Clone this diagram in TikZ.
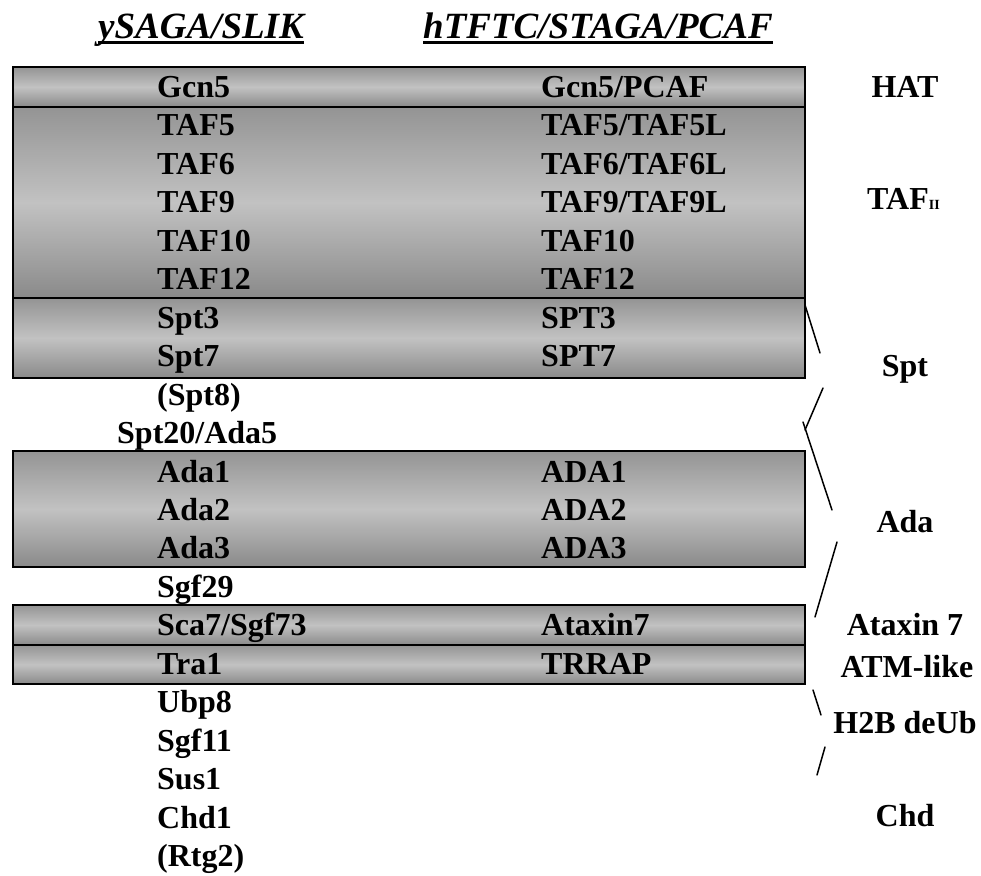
\documentclass[tikz,border=0pt]{standalone}
\usepackage{fontspec}
\setmainfont{Liberation Serif}
\begin{document}
\begin{tikzpicture}[x=1pt,y=-1pt,
  cbox/.style={draw=black, line width=1.6pt, top color=black!42, bottom color=black!46, middle color=black!24},
  lt/.style={anchor=base west, inner sep=0pt, font=\bfseries\fontsize{32}{32}\selectfont},
  rl/.style={anchor=base, inner sep=0pt, font=\bfseries\fontsize{32}{32}\selectfont},
  hd/.style={anchor=base west, inner sep=0pt, font=\bfseries\itshape\fontsize{37}{37}\selectfont},
  brk/.style={line width=1.5pt, line cap=round}]
\useasboundingbox (0,0) rectangle (981,875);
\fill[white] (0,0) rectangle (981,875);
% headers
\node[hd] (h1) at (98,38) {ySAGA/SLIK};
\node[hd] (h2) at (423,38) {hTFTC/STAGA/PCAF};
\draw[line width=3pt] ([yshift=-4.5pt]h1.base west) -- ([yshift=-4.5pt]h1.base east);
\draw[line width=3pt] ([yshift=-4.5pt]h2.base west) -- ([yshift=-4.5pt]h2.base east);
% boxes
\path[cbox] (13,67) rectangle (805,107);
\path[cbox] (13,107) rectangle (805,298);
\path[cbox] (13,298) rectangle (805,378);
\path[cbox] (13,451) rectangle (805,567);
\path[cbox] (13,605) rectangle (805,645);
\path[cbox] (13,645) rectangle (805,684);
% left column
\node[lt] (l0) at (157,97.5) {Gcn5};
\node[lt] (l1) at (157,135.95) {TAF5};
\node[lt] (l2) at (157,174.4) {TAF6};
\node[lt] (l3) at (157,212.85) {TAF9};
\node[lt] (l4) at (157,251.3) {TAF10};
\node[lt] (l5) at (157,289.75) {TAF12};
\node[lt] (l6) at (157,328.2) {Spt3};
\node[lt] (l7) at (157,366.65) {Spt7};
\node[lt] (l8) at (157,405.1) {(Spt8)};
\node[lt] (l9) at (117,443.55) {Spt20/Ada5};
\node[lt] (l10) at (157,482.0) {Ada1};
\node[lt] (l11) at (157,520.45) {Ada2};
\node[lt] (l12) at (157,558.9) {Ada3};
\node[lt] (l13) at (157,597.35) {Sgf29};
\node[lt] (l14) at (157,635.8) {Sca7/Sgf73};
\node[lt] (l15) at (157,674.25) {Tra1};
\node[lt] (l16) at (157,712.7) {Ubp8};
\node[lt] (l17) at (157,751.15) {Sgf11};
\node[lt] (l18) at (157,789.6) {Sus1};
\node[lt] (l19) at (157,828.05) {Chd1};
\node[lt] (l20) at (157,866.5) {(Rtg2)};
% right column
\node[lt] (r0) at (541,97.5) {Gcn5/PCAF};
\node[lt] (r1) at (541,135.95) {TAF5/TAF5L};
\node[lt] (r2) at (541,174.4) {TAF6/TAF6L};
\node[lt] (r3) at (541,212.85) {TAF9/TAF9L};
\node[lt] (r4) at (541,251.3) {TAF10};
\node[lt] (r5) at (541,289.75) {TAF12};
\node[lt] (r6) at (541,328.2) {SPT3};
\node[lt] (r7) at (541,366.65) {SPT7};
\node[lt] (r10) at (541,482.0) {ADA1};
\node[lt] (r11) at (541,520.45) {ADA2};
\node[lt] (r12) at (541,558.9) {ADA3};
\node[lt] (r14) at (541,635.8) {Ataxin7};
\node[lt] (r15) at (541,674.25) {TRRAP};
% category labels
\node[rl] (c1) at (905,97.5) {HAT};
\node[lt] (c2) at (867,209) {TAF{\fontsize{14}{14}\selectfont II}};
\node[rl] (c3) at (905,376) {Spt};
\node[rl] (c4) at (905,532) {Ada};
\node[rl] (c5) at (905,635.8) {Ataxin 7};
\node[rl] (c6) at (907,677) {ATM-like};
\node[rl] (c7) at (905,733) {H2B deUb};
\node[rl] (c8) at (905,826) {Chd};
% bracket strokes
\coordinate (a1) at (805,305); \coordinate (a2) at (820,353);
\coordinate (b1) at (823,388); \coordinate (b2) at (805,430);
\coordinate (d1) at (803,422); \coordinate (d2) at (832,510);
\coordinate (e1) at (837,542); \coordinate (e2) at (815,617);
\coordinate (f1) at (813,690); \coordinate (f2) at (821,715);
\coordinate (g1) at (825,747); \coordinate (g2) at (817,775);
\draw[brk] (a1) -- (a2);
\draw[brk] (b1) -- (b2);
\draw[brk] (d1) -- (d2);
\draw[brk] (e1) -- (e2);
\draw[brk] (f1) -- (f2);
\draw[brk] (g1) -- (g2);
\end{tikzpicture}
\end{document}
